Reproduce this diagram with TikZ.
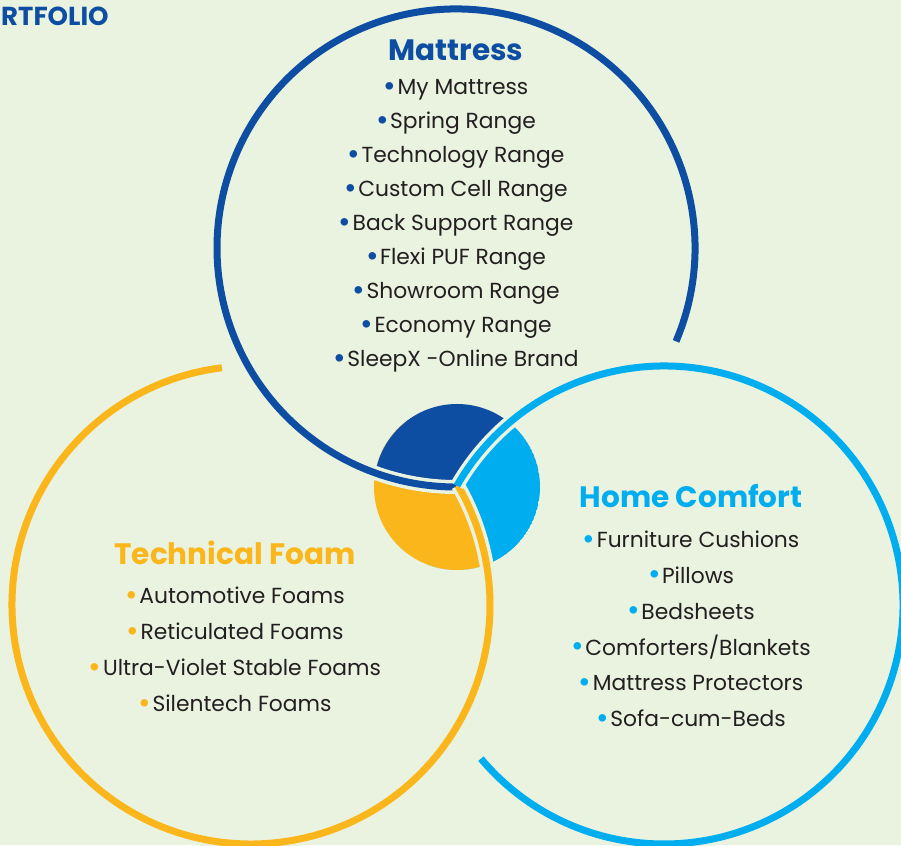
\documentclass[tikz,border=0pt]{standalone}
\usepackage{fontspec}
\setmainfont{Poppins}
\usetikzlibrary{positioning}

\definecolor{matblue}{HTML}{0D4EA2}
\definecolor{homeblue}{HTML}{00AEEF}
\definecolor{foamyellow}{HTML}{FBB61C}
\definecolor{paper}{HTML}{EAF2E0}
\definecolor{ink}{HTML}{231F20}
\newcommand{\dotb}[1]{\textcolor{#1}{\raisebox{-0.07em}{\scalebox{1.4}{\textbullet}}}\hspace{1.5pt}}

\begin{document}
\begin{tikzpicture}[x=1pt, y=1pt,
    ring/.style={line width=7pt},
    halo/.style={line width=14pt, paper},
    title/.style={font=\fontsize{29.5}{34}\selectfont\bfseries, inner sep=0pt},
    items/.style={font=\fontsize{21.8}{#1}\selectfont, text=ink, align=center, inner sep=0pt}]
	\useasboundingbox (0,0) rectangle (901,845);
	\clip (0,0) rectangle (901,845);
	\fill[paper] (0,0) rectangle (901,845);

	\coordinate (O) at (457,358);
	\coordinate (M) at (456,597);
	\coordinate (F) at (251,240);
	\coordinate (H) at (664,240);

	% centre pie
	\begin{scope}
		\clip (O) circle (83);
		\clip (M) circle (239);
		\fill[matblue, even odd rule] (O) circle (83) (H) circle (239);
	\end{scope}
	\begin{scope}
		\clip (O) circle (83);
		\clip (H) circle (239);
		\fill[homeblue, even odd rule] (O) circle (83) (F) circle (239);
	\end{scope}
	\begin{scope}
		\clip (O) circle (83);
		\clip (F) circle (239);
		\fill[foamyellow, even odd rule] (O) circle (83) (M) circle (239);
	\end{scope}

	% rings
	\foreach \c/\col/\a/\b in {M/matblue/-23/270, F/foamyellow/97/390, H/homeblue/150/-140} {
		\draw[halo] (\c) ++(\a:239) arc[start angle=\a, end angle=\b, radius=239];
		\draw[ring, \col] (\c) ++(\a:239) arc[start angle=\a, end angle=\b, radius=239];
	}

	\node[anchor=west, font=\fontsize{26}{26}\selectfont\bfseries, text=matblue, inner sep=0pt] (heading) at (1,829) {RTFOLIO};

	\node[title, text=matblue] (mattress) at (456,795) {Mattress};
	\node[items=34, below=19pt of mattress] (mattresslist) {%
		\dotb{matblue}My Mattress\\
		\dotb{matblue}Spring Range\\
		\dotb{matblue}Technology Range\\
		\dotb{matblue}Custom Cell Range\\
		\dotb{matblue}Back Support Range\\
		\dotb{matblue}Flexi PUF Range\\
		\dotb{matblue}Showroom Range\\
		\dotb{matblue}Economy Range\\
		\dotb{matblue}SleepX -Online Brand};

	\node[title, text=foamyellow] (foam) at (235,292) {Technical Foam};
	\node[items=36, below=22pt of foam] (foamlist) {%
		\dotb{foamyellow}Automotive Foams\\
		\dotb{foamyellow}Reticulated Foams\\
		\dotb{foamyellow}Ultra-Violet Stable Foams\\
		\dotb{foamyellow}Silentech Foams};

	\node[title, text=homeblue] (home) at (691,349) {Home Comfort};
	\node[items=35.8, below=23pt of home] (homelist) {%
		\dotb{homeblue}Furniture Cushions\\
		\dotb{homeblue}Pillows\\
		\dotb{homeblue}Bedsheets\\
		\dotb{homeblue}Comforters/Blankets\\
		\dotb{homeblue}Mattress Protectors\\
		\dotb{homeblue}Sofa-cum-Beds};
\end{tikzpicture}
\end{document}
